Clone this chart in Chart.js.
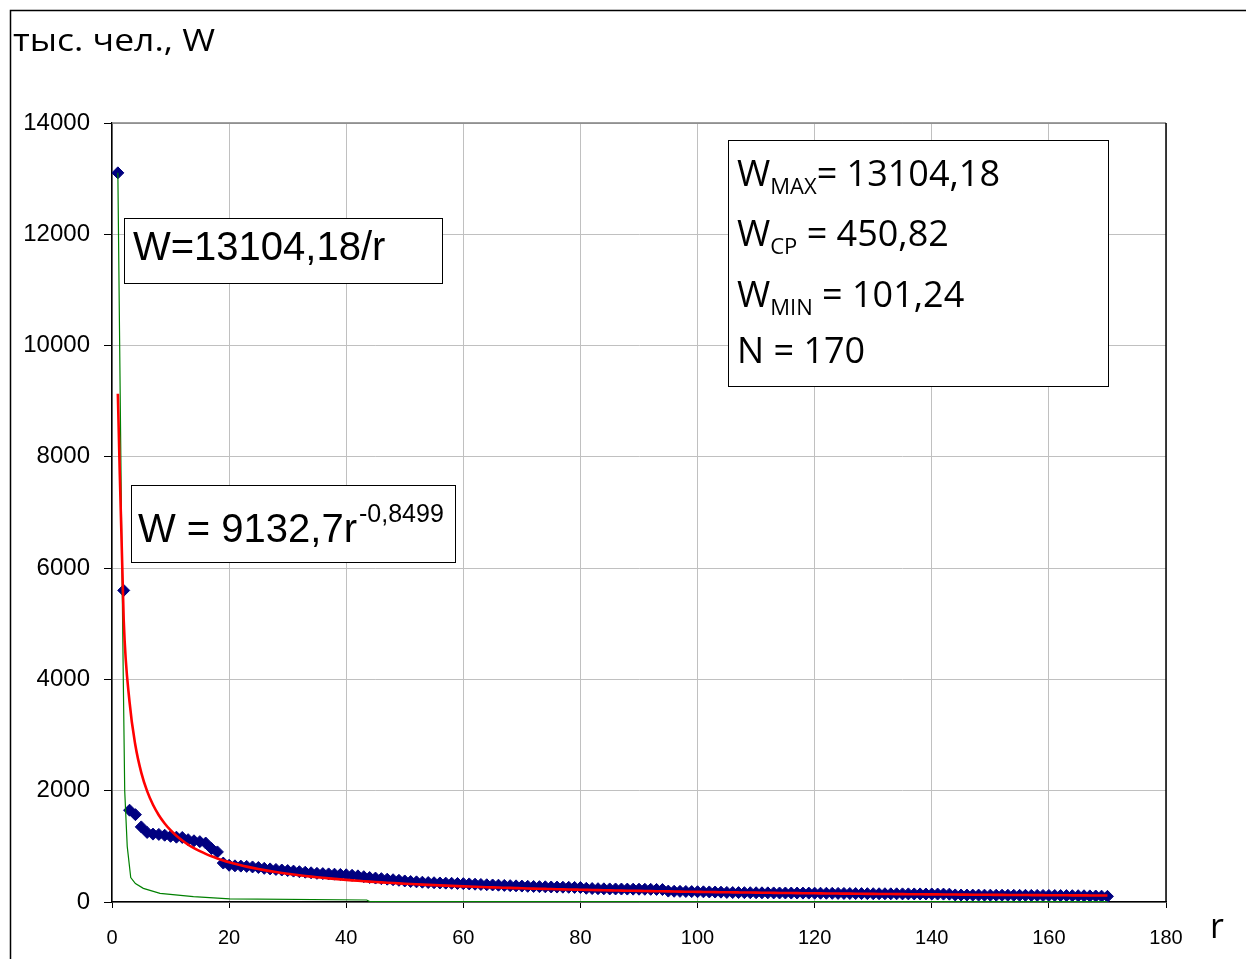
<!DOCTYPE html>
<html>
<head>
<meta charset="utf-8">
<script src="https://cdn.jsdelivr.net/npm/chart.js@4.4.1/dist/chart.umd.min.js"></script>
<style>
  html, body { margin: 0; padding: 0; background: #fff; }
  #wrap { width: 1246px; height: 959px; }
</style>
</head>
<body>
<div id="wrap"><canvas id="rankChart" width="1246" height="959"></canvas></div>
<script>
// Ранг города r и численность населения W, тыс. чел.
const ranks = Array.from({ length: 170 }, (_, i) => i + 1);
const population = [
  13104.18, 5600, 1650, 1570, 1350, 1250, 1220, 1215, 1200, 1180,
  1165, 1160, 1120, 1100, 1085, 1060, 960, 900, 700, 660,
  650, 645, 640, 630, 620, 605, 595, 585, 575, 565,
  555, 545, 535, 525, 515, 510, 505, 500, 495, 490,
  480, 470, 455, 440, 430, 420, 410, 400, 390, 378,
  368, 362, 356, 350, 346, 342, 339, 336, 333, 330,
  325, 320, 315, 310, 306, 302, 298, 294, 290, 286,
  282, 279, 276, 273, 270, 268, 266, 264, 262, 260,
  246, 242, 239, 237, 235, 234, 233, 232, 231, 230,
  229, 228, 226, 224, 196, 193, 191, 189, 187, 185,
  183, 181, 179, 177, 172, 170, 169, 168, 167, 166,
  165, 164, 163, 162, 162, 161, 161, 160, 160, 159,
  158, 157, 156, 155, 154, 153, 152, 151, 150, 149,
  148, 148, 147, 147, 146, 146, 145, 145, 144, 144,
  143, 142, 141, 127, 126, 125, 124, 124, 123, 123,
  122, 122, 121, 121, 120, 120, 119, 119, 118, 118,
  117, 116, 115, 114, 113, 112, 110, 108, 105, 101.24
];

// Степенной тренд W = 9132,7 r^-0,8499
const trendCoef = 9132.7;
const trendExp = -0.8499;

// Зелёная кривая
const greenR = [1, 1.75, 1.93, 2.17, 2.6, 3.2, 4.0, 5.35, 8.2, 13.9, 20.1, 43.5, 44, 170];
const greenW = [13104, 5600, 4000, 2000, 1000, 440, 330, 245, 155, 95, 55, 36, 8, 8];

// Подписи
const titleText = 'тыс. чел., W';
const xTitleText = 'r';
const hyperbolaLabel = 'W=13104,18/r';
const trendMain = 'W = 9132,7r';
const trendPow = '-0,8499';
const statsLines = [
  [['W', 0], ['MAX', 1], ['= 13104,18', 0]],
  [['W', 0], ['CP', 1], [' = 450,82', 0]],
  [['W', 0], ['MIN', 1], [' = 101,24', 0]],
  [['N = 170', 0]]
];

const scatterPts = ranks.map((r, i) => ({ x: r, y: population[i] }));
const trendPts = ranks.map(r => ({ x: r, y: trendCoef * Math.pow(r, trendExp) }));
const greenPts = greenR.map((r, i) => ({ x: r, y: greenW[i] }));

// Рамки, заголовки и текстовые блоки поверх графика
const decor = {
  id: 'decor',
  afterDraw(chart) {
    const { ctx, chartArea: a } = chart;
    ctx.save();

    // внешняя рамка
    ctx.strokeStyle = '#000';
    ctx.lineWidth = 1.5;
    ctx.strokeRect(10.5, 10.5, 1400, 1100);

    // верх и правый край области построения
    ctx.strokeStyle = '#808080';
    ctx.beginPath();
    ctx.moveTo(a.left, a.top);
    ctx.lineTo(a.right, a.top);
    ctx.stroke();
    ctx.strokeStyle = '#000';
    ctx.beginPath();
    ctx.moveTo(a.right, a.top);
    ctx.lineTo(a.right, a.bottom);
    ctx.stroke();

    // заголовок оси Y
    ctx.fillStyle = '#000';
    ctx.textBaseline = 'alphabetic';
    ctx.textAlign = 'left';
    ctx.font = '31px "Open Sans"';
    const tw = ctx.measureText(titleText).width;
    ctx.save();
    ctx.translate(13, 51);
    ctx.scale(202 / tw, 1);
    ctx.fillText(titleText, 0, 0);
    ctx.restore();

    // подпись оси X
    ctx.font = '34px "Open Sans"';
    ctx.fillText(xTitleText, 1210, 938);

    // блок с гиперболой
    ctx.lineWidth = 1;
    ctx.fillStyle = '#fff';
    ctx.fillRect(124.5, 218.5, 318, 65);
    ctx.strokeRect(124.5, 218.5, 318, 65);
    ctx.fillStyle = '#000';
    ctx.font = '40px "Liberation Sans", Arial';
    ctx.fillText(hyperbolaLabel, 133, 260);

    // блок с трендом
    ctx.fillStyle = '#fff';
    ctx.fillRect(131.5, 485.5, 324, 77);
    ctx.strokeRect(131.5, 485.5, 324, 77);
    ctx.fillStyle = '#000';
    ctx.font = '40px "Liberation Sans", Arial';
    ctx.fillText(trendMain, 138, 542);
    const mw = ctx.measureText(trendMain).width;
    ctx.font = '25px "Liberation Sans", Arial';
    ctx.fillText(trendPow, 138 + mw + 2, 522);

    // блок со статистикой
    ctx.fillStyle = '#fff';
    ctx.fillRect(728.5, 140.5, 380, 246);
    ctx.strokeRect(728.5, 140.5, 380, 246);
    ctx.fillStyle = '#000';
    const baselines = [186, 246, 307, 363];
    statsLines.forEach((parts, li) => {
      let x = 737;
      parts.forEach(([t, sub]) => {
        ctx.font = sub ? '22px "Open Sans"' : '36px "Open Sans"';
        ctx.fillText(t, x, baselines[li] + (sub ? 8 : 0));
        x += ctx.measureText(t).width;
      });
    });

    ctx.restore();
  }
};

new Chart(document.getElementById('rankChart'), {
  type: 'scatter',
  data: {
    datasets: [
      {
        type: 'line',
        label: 'Тренд',
        data: trendPts,
        borderColor: '#ff0000',
        borderWidth: 2.6,
        pointRadius: 0,
        fill: false,
        cubicInterpolationMode: 'monotone'
      },
      {
        type: 'line',
        label: 'W = 13104,18/r',
        data: greenPts,
        borderColor: '#008000',
        borderWidth: 1.2,
        pointRadius: 0,
        fill: false,
        tension: 0
      },
      {
        label: 'W',
        data: scatterPts,
        pointStyle: 'rectRot',
        pointRadius: 6,
        backgroundColor: '#000080',
        borderColor: '#000080',
        borderWidth: 1
      }
    ]
  },
  options: {
    responsive: false,
    animation: false,
    layout: { padding: { left: 10, top: 123, right: 80, bottom: 0 } },
    plugins: {
      legend: { display: false },
      tooltip: { enabled: false }
    },
    scales: {
      x: {
        type: 'linear',
        min: 0,
        max: 180,
        ticks: {
          stepSize: 20,
          padding: 18,
          color: '#000',
          font: { family: '"Liberation Sans", Arial', size: 20 },
          callback: (v) => String(v)
        },
        grid: { color: '#c0c0c0', lineWidth: 1, tickLength: 6, tickColor: '#000' },
        border: { color: '#000', width: 1.5 },
        afterFit: (s) => { s.height = 57; }
      },
      y: {
        min: 0,
        max: 14000,
        ticks: {
          stepSize: 2000,
          padding: 14,
          color: '#000',
          font: { family: '"Liberation Sans", Arial', size: 24 },
          callback: (v) => String(v)
        },
        grid: { color: '#c0c0c0', lineWidth: 1, tickLength: 8, tickColor: '#000' },
        border: { color: '#000', width: 1.5 },
        afterFit: (s) => { s.width = 102; }
      }
    }
  },
  plugins: [decor]
});
</script>
</body>
</html>
